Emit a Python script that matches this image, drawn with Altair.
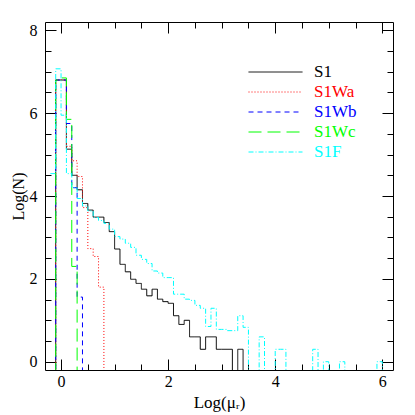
import altair as alt
import pandas as pd

# ---- data ----
# left edges of the 0.1-wide bins in Log(mu_r)
bin_left = [-0.3, -0.2, -0.1, 0.0, 0.1, 0.2, 0.3, 0.4, 0.5, 0.6, 0.7, 0.8, 0.9,
            1.0, 1.1, 1.2, 1.3, 1.4, 1.5, 1.6, 1.7, 1.8, 1.9,
            2.0, 2.1, 2.2, 2.3, 2.4, 2.5, 2.6, 2.7, 2.8, 2.9,
            3.0, 3.1, 3.2, 3.3, 3.4, 3.5, 3.6, 3.7, 3.8, 3.9,
            4.0, 4.1, 4.2, 4.3, 4.4, 4.5, 4.6, 4.7, 4.8, 4.9,
            5.0, 5.1, 5.2, 5.3, 5.4, 5.5, 5.6, 5.7, 5.8, 5.9, 6.0]

E = -1.0  # empty bin: Log(N) off the bottom of the plot
N = None  # no bin drawn (histogram not started yet)

S1 = [E, E, 6.80, 6.80, 5.13, 4.50, 4.15, 3.82, 3.66, 3.49, 3.49, 3.36, 3.14,
      2.72, 2.35, 2.17, 1.99, 1.89, 1.75, 1.59, 1.75, 1.51, 1.45,
      1.41, 1.11, 0.90, 1.00, 0.60, 0.60, 0.30, 0.60, 0.60, 0.30,
      0.30, 0.30, E, 0.30, E]
S1Wa = [E, E, 6.80, 6.80, 5.20, 4.85, 4.47, 3.72, 2.73, 2.54, 1.80, E]
S1Wb = [E, E, 6.80, 6.80, 5.75, 4.20, 1.56, E]
S1Wc = [E, E, 6.80, 6.85, 5.85, 2.30, E]
S1F = [N, 4.54, 7.07, 5.95, 4.54, 4.20, 3.94, 3.76, 3.64, 3.48, 3.41, 3.34, 3.20,
       3.02, 2.96, 2.86, 2.76, 2.57, 2.47, 2.37, 2.19, 2.14, 2.03,
       2.03, 1.63, 1.63, 1.51, 1.48, 1.36, 1.29, 0.85, 1.29, 0.78,
       0.78, 0.75, 0.75, 1.11, 0.83, E, E, 0.60, E, E,
       0.30, 0.30, E, E, E, E, E, 0.30, E, 0.00,
       E, E, 0.00, E, E, E, E, E, E, 0.00, E]

names = ["S1", "S1Wa", "S1Wb", "S1Wc", "S1F"]
colors = ["#000000", "#ff0000", "#0000ff", "#00ff00", "#00ffff"]
dashes = [[1, 0], [1, 2], [5, 4], [13, 6], [5, 2, 1, 2]]

x_major = [0, 2, 4, 6]
x_minor = [0, 0.5, 1, 1.5, 2, 2.5, 3, 3.5, 4, 4.5, 5, 5.5, 6]
y_major = [0, 2, 4, 6, 8]
y_minor = [0, 0.5, 1, 1.5, 2, 2.5, 3, 3.5, 4, 4.5, 5, 5.5, 6, 6.5, 7, 7.5, 8]

rows = []
for name, vals in zip(names, [S1, S1Wa, S1Wb, S1Wc, S1F]):
    for i, v in enumerate(vals):
        if v is None:
            continue
        rows.append({"series": name, "x": bin_left[i], "y": v})
df = pd.DataFrame(rows)

W = 348
H = 348
FONT = "Liberation Serif"

xscale = alt.Scale(domain=[-0.3, 6.2], nice=False, zero=False)
yscale = alt.Scale(domain=[-0.2, 8.2], nice=False, zero=False)

label_color = ("datum.label == 'S1Wa' ? '#ff0000' : datum.label == 'S1Wb' ? '#0000ff' : "
               "datum.label == 'S1Wc' ? '#00ff00' : datum.label == 'S1F' ? '#00ffff' : '#000000'")

legend = alt.Legend(
    title=None, orient="none", legendX=203, legendY=40, padding=0,
    symbolType="stroke", symbolSize=2916, symbolStrokeWidth=1,
    clipHeight=20, rowPadding=0, labelOffset=11,
    labelFont=FONT, labelFontSize=17, labelColor={"expr": label_color},
)

lines = alt.Chart(df).mark_line(interpolate="step-after", strokeWidth=1, clip=True).encode(
    x=alt.X("x:Q", scale=xscale, axis=alt.Axis(
        orient="bottom", values=x_major, ticks=False, domain=False, grid=False,
        labelFont=FONT, labelFontSize=16, labelColor="black", labelPadding=3,
        title="Log(μᵣ)", titleFont=FONT, titleFontSize=17, titleFontWeight="normal",
        titleColor="black", titlePadding=5)),
    y=alt.Y("y:Q", scale=yscale, axis=alt.Axis(
        orient="left", values=y_major, ticks=False, domain=False, grid=False,
        labelFont=FONT, labelFontSize=16, labelColor="black", labelPadding=8,
        title="Log(N)", titleFont=FONT, titleFontSize=16, titleFontWeight="normal",
        titleColor="black", titlePadding=3)),
    color=alt.Color("series:N", scale=alt.Scale(domain=names, range=colors), legend=legend),
    strokeDash=alt.StrokeDash("series:N", scale=alt.Scale(domain=names, range=dashes), legend=legend),
)


def tick_layer(xorient, yorient, xvals, yvals, size):
    return alt.Chart(df).mark_point(opacity=0, clip=True).encode(
        x=alt.X("x:Q", scale=xscale, axis=alt.Axis(
            orient=xorient, offset=-H, values=xvals, labels=False, domain=False,
            grid=False, ticks=True, tickSize=size, tickColor="black", tickWidth=1,
            title=None)),
        y=alt.Y("y:Q", scale=yscale, axis=alt.Axis(
            orient=yorient, offset=-W, values=yvals, labels=False, domain=False,
            grid=False, ticks=True, tickSize=size, tickColor="black", tickWidth=1,
            title=None)),
    )


chart = alt.layer(
    lines,
    tick_layer("top", "left", x_major, y_major, 11),      # bottom & right edges, major
    tick_layer("bottom", "right", x_major, y_major, 11),  # top & left edges, major
    tick_layer("top", "left", x_minor, y_minor, 6),
    tick_layer("bottom", "right", x_minor, y_minor, 6),
).resolve_axis(x="independent", y="independent").properties(
    width=W, height=H,
    autosize=alt.AutoSizeParams(type="none"),
    padding={"left": 37, "top": 14, "right": 14, "bottom": 45},
).configure_view(stroke="black", strokeWidth=1)

chart.save("out.html", embed_options={"renderer": "svg", "actions": False})
